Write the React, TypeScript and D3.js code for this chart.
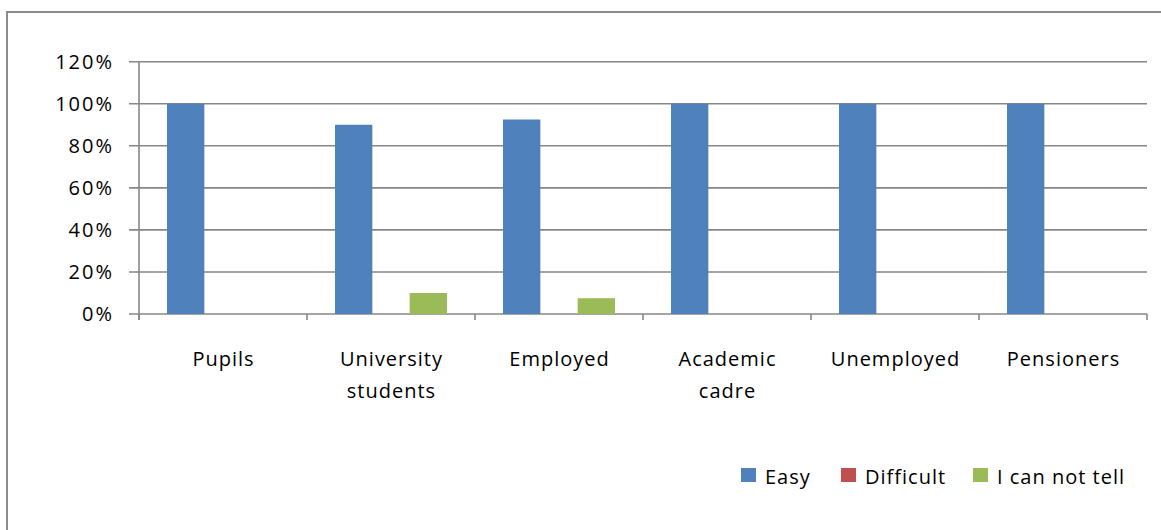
import React from "react";
import * as d3 from "d3";

const categories: string[][] = [
  ["Pupils"],
  ["University", "students"],
  ["Employed"],
  ["Academic", "cadre"],
  ["Unemployed"],
  ["Pensioners"],
];
const seriesNames = ["Easy", "Difficult", "I can not tell"];
const easy = [100, 90, 92.5, 100, 100, 100];
const difficult = [0, 0, 0, 0, 0, 0];
const cannotTell = [0, 10, 7.5, 0, 0, 0];
const yTicks = [0, 20, 40, 60, 80, 100, 120];
const colors = ["#4F81BD", "#C0504D", "#9BBB59"];

const W = 1161;
const H = 530;
const FONT = "'Open Sans', 'Noto Sans', sans-serif";

export default function App() {
  const left = 139;
  const right = 1147;
  const top = 61.7;
  const bottom = 314;
  const x = d3
    .scaleBand<number>()
    .domain(d3.range(categories.length))
    .range([left, right]);
  const bw = x.bandwidth() / 4.5;
  const y = d3.scaleLinear().domain([0, 120]).range([bottom, top]);
  const series = [easy, difficult, cannotTell];
  const gridColor = "#878787";

  return (
    <svg
      width={W}
      height={H}
      style={{ position: "absolute", left: 0, top: 0, background: "#fff" }}
      fontFamily={FONT}
    >
      <rect x={0} y={0} width={W} height={H} fill="#fff" />
      <rect
        x={7}
        y={12}
        width={W + 10}
        height={H + 10}
        fill="none"
        stroke="#8c8c8c"
        strokeWidth={2}
      />
      {yTicks.map((t) => (
        <g key={t}>
          <line
            x1={left - 10}
            x2={right}
            y1={y(t)}
            y2={y(t)}
            stroke={gridColor}
            strokeWidth={1.6}
          />
          <text
            x={114}
            y={y(t)}
            dy="0.36em"
            textAnchor="end"
            fontSize={20}
            letterSpacing={2}
            fill="#000"
          >
            {t}%
          </text>
        </g>
      ))}
      <line x1={left} x2={left} y1={top} y2={bottom + 6} stroke={gridColor} strokeWidth={1.6} />
      {d3.range(categories.length + 1).map((i) => {
        const xx = i < categories.length ? (x(i) as number) : right;
        return (
          <line
            key={i}
            x1={xx}
            x2={xx}
            y1={bottom}
            y2={bottom + 6}
            stroke={gridColor}
            strokeWidth={1.6}
          />
        );
      })}
      {series.map((vals, si) =>
        vals.map((v, ci) =>
          v > 0 ? (
            <rect
              key={`${si}-${ci}`}
              x={(x(ci) as number) + bw * 0.75 + si * bw}
              y={y(v)}
              width={bw}
              height={y(0) - y(v)}
              fill={colors[si]}
            />
          ) : null
        )
      )}
      {categories.map((lines, ci) => {
        const cx = (x(ci) as number) + x.bandwidth() / 2 + 0.5;
        return (
          <text
            key={ci}
            x={cx}
            y={366}
            textAnchor="middle"
            fontSize={20}
            letterSpacing={1}
            fill="#000"
          >
            {lines.map((ln, li) => (
              <tspan key={li} x={cx} dy={li === 0 ? 0 : 32}>
                {ln}
              </tspan>
            ))}
          </text>
        );
      })}
      {seriesNames.map((name, i) => {
        const lx = [741, 841, 973][i];
        return (
          <g key={name}>
            <rect x={lx} y={468} width={15} height={14} fill={colors[i]} />
            <text x={lx + 24} y={484} fontSize={20} letterSpacing={1} fill="#000">
              {name}
            </text>
          </g>
        );
      })}
    </svg>
  );
}
